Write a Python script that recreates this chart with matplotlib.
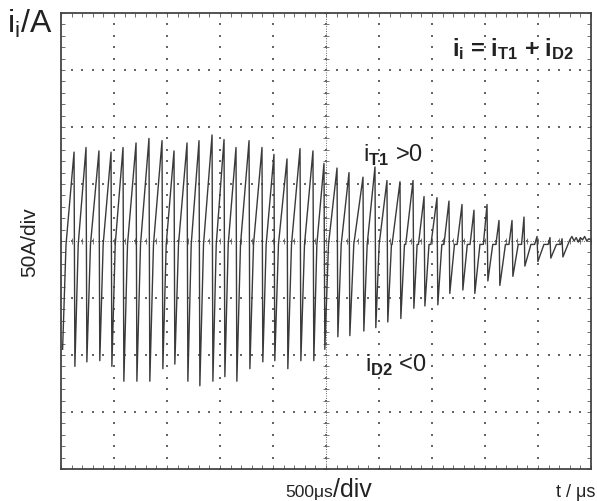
import numpy as np
import matplotlib.pyplot as plt
from matplotlib import font_manager

# --- data (t in us, i in A) ---
t_peak = [123, 236, 358, 472, 585, 708, 830, 953, 1066, 1189,
          1302, 1425, 1538, 1651, 1774, 1896, 2009, 2132, 2255, 2377,
          2481, 2604, 2717, 2849, 2962, 3075, 3198, 3321, 3425, 3547,
          3660, 3783, 3896, 4019, 4132, 4255, 4368, 4491, 4613, 4727]
i_peak = [78, 82, 79, 78, 82, 86, 90, 88, 79, 86,
          88, 93, 89, 82, 88, 82, 76, 72, 81, 79,
          68, 64, 60, 56, 65, 53, 52, 53, 39, 38,
          35, 32, 27, 32, 18, 18, 21, 4, 3, 2]
i_trough = [-110, -106, -105, -110, -123, -123, -123, -112, -108, -123,
            -127, -123, -119, -123, -112, -106, -105, -112, -105, -105,
            -95, -84, -83, -79, -76, -71, -68, -59, -57, -56,
            -46, -43, -46, -35, -39, -31, -22, -18, -15, -14]
# fraction of each ramp where current reaches ~0 and where it leaves 0 again
zero_in = [0.3] * 26 + [0.3, 0.3, 0.32, 0.34, 0.36, 0.38, 0.4, 0.42,
                        0.44, 0.46, 0.48, 0.5, 0.5, 0.5]
zero_out = [0.3] * 26 + [0.35, 0.4, 0.45, 0.5, 0.55, 0.6, 0.65, 0.7,
                         0.72, 0.75, 0.78, 0.8, 0.85, 0.88]
t_start, i_start = 15, -95
tail_t = [4800, 4820, 4840, 4860, 4880, 4900, 4920, 4940, 4960, 4980, 5000]
tail_i = [1, 4, 0, 3, -1, 3, 1, 4, 0, 2, 1]

drop = 8
z_level = -3

names = [f.name for f in font_manager.fontManager.ttflist]
narrow = 'Liberation Sans Narrow' if 'Liberation Sans Narrow' in names else 'Liberation Sans'
plt.rcParams['font.family'] = ['Liberation Sans', 'DejaVu Sans']
plt.rcParams['mathtext.fontset'] = 'custom'
plt.rcParams['mathtext.rm'] = narrow
plt.rcParams['mathtext.bf'] = narrow + ':bold'

# build trace path
tt = [t_start]
ii = [i_start]
prev_t = t_start
for k in range(len(t_peak)):
    T = t_peak[k] - prev_t
    tt += [prev_t + zero_in[k] * T, prev_t + zero_out[k] * T, t_peak[k], t_peak[k] + drop]
    ii += [z_level, z_level, i_peak[k], i_trough[k]]
    prev_t = t_peak[k] + drop
tt += tail_t
ii += tail_i

W, H = 597, 502
fig = plt.figure(figsize=(W / 100, H / 100), dpi=100)
ax = fig.add_axes([61 / W, 1 - 470 / H, 530 / W, 456 / H])

ax.set_xlim(0, 5000)
ax.set_ylim(-200, 200)
major_x = np.arange(0, 5001, 500)
major_y = np.arange(-200, 201, 50)
minor_x = np.arange(0, 5001, 100)
minor_y = np.arange(-200, 201, 10)
ax.set_xticks(major_x)
ax.set_yticks(major_y)
ax.set_xticks(minor_x, minor=True)
ax.set_yticks(minor_y, minor=True)
ax.tick_params(which='both', direction='in', top=True, right=True,
               labelbottom=False, labelleft=False, length=3, width=0.6, color='#555555')

gc = '#666666'
for xv in major_x[1:-1]:
    ax.scatter([xv] * len(minor_y), minor_y, s=1.4, c=gc, marker='s', lw=0, zorder=1)
for yv in major_y[1:-1]:
    ax.scatter(minor_x, [yv] * len(minor_x), s=1.4, c=gc, marker='s', lw=0, zorder=1)

# center cross
ax.axhline(0, ls=(0, (1, 1.5)), lw=0.7, color=gc, zorder=1)
ax.axvline(2500, ls=(0, (1, 1.5)), lw=0.7, color=gc, zorder=1)
ax.plot(minor_x, [0] * len(minor_x), ls='none', marker='|', ms=5, mew=0.6, color=gc, zorder=1)
ax.plot([2500] * len(minor_y), minor_y, ls='none', marker='_', ms=5, mew=0.6, color=gc, zorder=1)

ax.plot(tt, ii, color='#3a3a3a', lw=1.0, zorder=3)

for s in ax.spines.values():
    s.set_color('#444444')
    s.set_linewidth(1.3)

def px(x, y):
    return x / W, 1 - y / H

tc = '#222222'
fig.text(*px(7, 33), r'$\mathrm{i_i}$/A', fontsize=23, family=narrow, color=tc, va='baseline')
fig.text(*px(452, 56), r'$\mathbf{i_i}$ = $\mathbf{i_{T1}}$ + $\mathbf{i_{D2}}$', fontsize=17,
         family=narrow, weight='bold', color=tc, va='baseline')
fig.text(*px(363, 162), r'$\mathrm{i}_{\mathbf{T1}}$ >0', fontsize=17, family=narrow, color=tc, va='baseline')
fig.text(*px(365, 372), r'$\mathrm{i}_{\mathbf{D2}}$ <0', fontsize=17, family=narrow, color=tc, va='baseline')
fig.text(*px(30, 242), '50A/div', fontsize=15, color=tc, rotation=90, ha='center', va='center')
fig.text(*px(333, 497), '500\u03bcs', fontsize=12.5, color=tc, ha='right', va='baseline')
fig.text(*px(333, 497), '/div', fontsize=18, color=tc, ha='left', va='baseline')
fig.text(*px(556, 497), 't / \u03bcs', fontsize=13, color=tc, ha='left', va='baseline')

fig.savefig('out.png', dpi=100)
